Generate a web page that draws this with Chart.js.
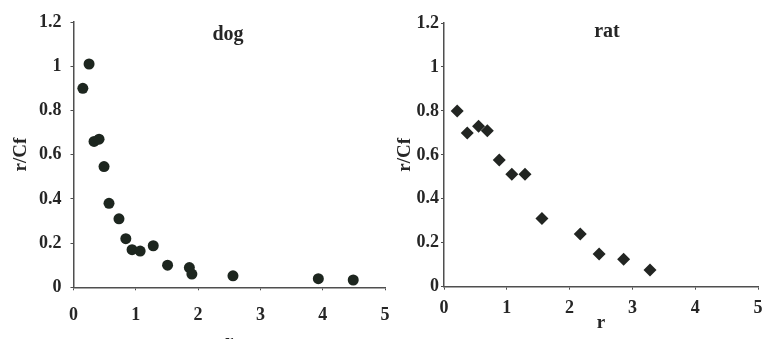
<!DOCTYPE html>
<html lang="en">
<head>
    <meta charset="UTF-8">
    <title>r/Cf vs r</title>
    <script src="https://cdn.jsdelivr.net/npm/chart.js"></script>
    <style>
        html, body { margin: 0; padding: 0; background: #fff; overflow: hidden; }
        .panel { position: absolute; top: 0; }
    </style>
</head>
<body>
    <div class="panel" style="left:0;width:404px;height:356px"><canvas id="dogChart"></canvas></div>
    <div class="panel" style="left:390px;width:382px;height:339px"><canvas id="ratChart"></canvas></div>

    <script>
        // values
        var dogR   = [0.15, 0.25, 0.33, 0.41, 0.49, 0.57, 0.73, 0.84, 0.94, 1.07, 1.28, 1.51, 1.86, 1.90, 2.56, 3.93, 4.49];
        var dogRCf = [0.90, 1.01, 0.66, 0.67, 0.546, 0.38, 0.31, 0.22, 0.17, 0.164, 0.188, 0.10, 0.089, 0.06, 0.052, 0.039, 0.033];

        var ratR   = [0.21, 0.37, 0.55, 0.69, 0.88, 1.08, 1.29, 1.56, 2.17, 2.47, 2.86, 3.28];
        var ratRCf = [0.80, 0.70, 0.73, 0.71, 0.576, 0.512, 0.512, 0.31, 0.24, 0.149, 0.125, 0.076];

        var xTicks = [0, 1, 2, 3, 4, 5];
        var yTicks = [0, 0.2, 0.4, 0.6, 0.8, 1, 1.2];
        var yTickLabels = ['0', '0.2', '0.4', '0.6', '0.8', '1', '1.2'];

        var serif = '"Liberation Serif", "Times New Roman", serif';
        var ink = '#262626';
        var axisCol = '#4f4f4f';

        function toPoints(xs, ys) {
            return xs.map(function(x, i) { return { x: x, y: ys[i] }; });
        }

        // panel title drawn inside the plot area
        var panelTitle = {
            id: 'panelTitle',
            afterDraw: function(chart, args, opts) {
                var ctx = chart.ctx;
                ctx.save();
                ctx.font = 'bold 20px ' + serif;
                ctx.fillStyle = ink;
                ctx.textAlign = 'center';
                ctx.textBaseline = 'alphabetic';
                ctx.fillText(opts.text, opts.x, opts.y);
                ctx.restore();
            }
        };

        function makeChart(id, name, pts, style, p) {
            return new Chart(document.getElementById(id), {
                type: 'scatter',
                data: {
                    datasets: [{
                        label: name,
                        data: pts,
                        pointStyle: style.shape,
                        pointRadius: style.radius,
                        pointHoverRadius: style.radius,
                        backgroundColor: style.color,
                        borderColor: style.color,
                        borderWidth: 0
                    }]
                },
                options: {
                    responsive: true,
                    maintainAspectRatio: false,
                    animation: false,
                    layout: { padding: { left: 0, top: p.top, right: p.right, bottom: 0 } },
                    plugins: {
                        legend: { display: false },
                        tooltip: { enabled: false },
                        panelTitle: { text: name, x: p.titleX, y: p.titleY }
                    },
                    scales: {
                        x: {
                            type: 'linear',
                            min: 0,
                            max: 5,
                            afterBuildTicks: function(s) { s.ticks = xTicks.map(function(v) { return { value: v }; }); },
                            afterFit: function(s) { s.height = p.xHeight; },
                            border: { display: true, color: axisCol, width: 1.5 },
                            grid: { display: true, drawOnChartArea: false, color: axisCol, tickLength: 3, lineWidth: 1 },
                            ticks: {
                                color: ink,
                                padding: p.xTickPad,
                                maxRotation: 0,
                                font: { family: serif, size: 18, weight: 'bold' }
                            },
                            title: {
                                display: true,
                                text: 'r',
                                color: ink,
                                padding: { top: 0, bottom: p.xTitlePad },
                                font: { family: serif, size: 19, weight: 'bold' }
                            }
                        },
                        y: {
                            type: 'linear',
                            min: 0,
                            max: 1.2,
                            afterBuildTicks: function(s) { s.ticks = yTicks.map(function(v) { return { value: v }; }); },
                            afterFit: function(s) { s.width = p.yWidth; },
                            border: { display: true, color: axisCol, width: 1.5 },
                            grid: { display: true, drawOnChartArea: false, color: axisCol, tickLength: 3, lineWidth: 1 },
                            ticks: {
                                color: ink,
                                padding: p.yTickPad,
                                font: { family: serif, size: 18, weight: 'bold' },
                                callback: function(v, i) { return yTickLabels[i]; }
                            },
                            title: {
                                display: true,
                                text: 'r/Cf',
                                color: ink,
                                padding: { top: p.yTitlePad, bottom: 0 },
                                font: { family: serif, size: 19, weight: 'bold' }
                            }
                        }
                    }
                },
                plugins: [panelTitle]
            });
        }

        makeChart('dogChart', 'dog', toPoints(dogR, dogRCf),
            { shape: 'circle', radius: 5.5, color: '#1d261f' },
            { top: 22, right: 19, yWidth: 73.5, xHeight: 68.7, xTickPad: 14, yTickPad: 9,
              xTitlePad: 3, yTitlePad: 10, titleX: 228, titleY: 40 });

        makeChart('ratChart', 'rat', toPoints(ratR, ratRCf),
            { shape: 'rectRot', radius: 6.5, color: '#222522' },
            { top: 23, right: 14, yWidth: 54, xHeight: 52.3, xTickPad: 8, yTickPad: 2,
              xTitlePad: 5, yTitlePad: 4, titleX: 217, titleY: 37 });
    </script>
</body>
</html>
